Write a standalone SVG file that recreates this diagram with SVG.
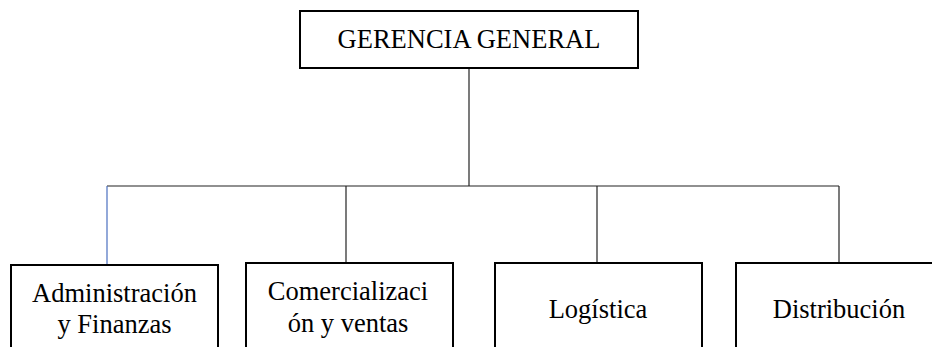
<svg xmlns="http://www.w3.org/2000/svg" width="932" height="347" viewBox="0 0 932 347">
<style>
.box{fill:#fff;stroke:#000;stroke-width:2}
.t{font-family:'Liberation Serif',Tinos,'Times New Roman','DejaVu Serif',serif;font-size:26.5px;fill:#000;text-anchor:middle}
.c{stroke:#222;stroke-width:1.2;fill:none}
</style>
<rect width="932" height="347" fill="#fff"/>
<g id="connectors">
<line class="c" x1="469" y1="68" x2="469" y2="186"/>
<line class="c" x1="107" y1="186" x2="839" y2="186"/>
<line x1="107" y1="186" x2="107" y2="265" stroke="#4a6fc0" stroke-width="1.2"/>
<line class="c" x1="346" y1="186" x2="346" y2="263"/>
<line class="c" x1="597" y1="186" x2="597" y2="263"/>
<line class="c" x1="839" y1="186" x2="839" y2="263"/>
</g>
<g id="gerencia">
<rect class="box" x="300" y="11" width="338" height="57"/>
<text class="t" x="469" y="48">GERENCIA GENERAL</text>
</g>
<g id="administracion">
<rect class="box" x="11" y="265" width="207" height="100"/>
<text class="t" x="114.5" y="302">Administración</text>
<text class="t" x="114.5" y="333">y Finanzas</text>
</g>
<g id="comercializacion">
<rect class="box" x="246" y="263" width="207" height="100"/>
<text class="t" x="348" y="300">Comercializaci</text>
<text class="t" x="348" y="332">ón y ventas</text>
</g>
<g id="logistica">
<rect class="box" x="495" y="263" width="207" height="100"/>
<text class="t" x="598" y="318">Logística</text>
</g>
<g id="distribucion">
<rect class="box" x="736" y="263" width="207" height="100"/>
<text class="t" x="839" y="318">Distribución</text>
</g>
</svg>
